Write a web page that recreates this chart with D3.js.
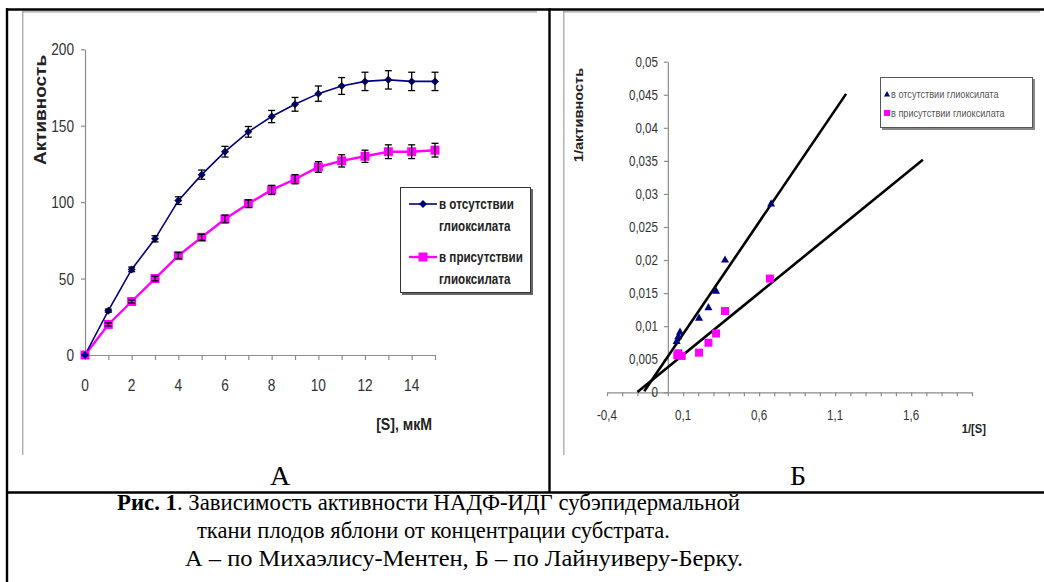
<!DOCTYPE html>
<html>
<head>
<meta charset="utf-8">
<script src="https://cdn.jsdelivr.net/npm/d3@7"></script>
<style>
  body { margin: 0; background: #fff; }
  svg { display: block; }
</style>
</head>
<body>
<div id="graph"></div>
<script>
// ---- data, panel A (Michaelis-Menten) ----
var conc       = [0, 1, 2, 3, 4, 5, 6, 7, 8, 9, 10, 11, 12, 13, 14, 15];
var actNoGly   = [0, 29, 56, 76, 101, 118, 133, 146, 156, 164, 171, 176, 179, 180, 179, 179];
var errNoGly   = [0, 1, 1.5, 2, 2.5, 3, 3.5, 3.5, 4, 4.5, 5, 5.5, 6, 6, 6, 6];
var actGly     = [0, 20, 35, 50, 65, 77, 89, 99, 108, 115, 123, 127, 130, 133, 133, 134];
var errGly     = [0, 1, 1, 1.5, 2, 2, 2.5, 2.5, 3, 3, 3.5, 4, 4, 4.5, 4.5, 4.5];
var leftXTicks  = [0, 1, 2, 3, 4, 5, 6, 7, 8, 9, 10, 11, 12, 13, 14, 15];
var leftXLabels = [0, 2, 4, 6, 8, 10, 12, 14];
var leftYTicks  = [0, 50, 100, 150, 200];
var seriesNames = [["в отсутствии", "глиоксилата"], ["в присутствии", "глиоксилата"]];

// ---- data, panel Б (Lineweaver-Burk) ----
var invSNoGly  = [0.058, 0.069, 0.080, 0.205, 0.267, 0.317, 0.376, 0.679];
var invVNoGly  = [0.0078, 0.0085, 0.0092, 0.0113, 0.0129, 0.0154, 0.0201, 0.0286];
var invSGly    = [0.062, 0.069, 0.091, 0.205, 0.267, 0.317, 0.376, 0.671];
var invVGly    = [0.0056, 0.0059, 0.0055, 0.0060, 0.0075, 0.0089, 0.0123, 0.0172];
var trendSlope     = [0.0339, 0.0187];
var trendIntercept = [0.0054, 0.0038];
var trendFrom      = [-0.155, -0.2];
var trendTo        = [1.172, 1.677];
var rightXTicks  = d3.range(-4, 21).map(i => i / 10);
var rightXLabels = [-0.4, 0.1, 0.6, 1.1, 1.6];
var rightYTicks  = [0, 0.005, 0.01, 0.015, 0.02, 0.025, 0.03, 0.035, 0.04, 0.045, 0.05];
var rightLegend  = ["в отсутствии глиоксилата", "в присутствии глиоксилата"];

var NAVY = "#000080", PINK = "#ff00ff", AXIS = "#8c8c8c";
var SQ = 0.83;   // the chart pictures are squeezed horizontally
var SANS = "'Liberation Sans', Arial, sans-serif";
var SERIF = "'Liberation Serif', 'Times New Roman', serif";

var svg = d3.select("#graph").append("svg")
  .attr("width", 1044).attr("height", 582);

svg.append("rect").attr("width", 1044).attr("height", 582).attr("fill", "#fff");

// squeezed text helper
function txt(g, x, y, s, size, o) {
  o = o || {};
  return g.append("text")
    .attr("transform", `translate(${x},${y}) scale(${SQ},1)` + (o.rotate ? " rotate(-90)" : ""))
    .attr("text-anchor", o.anchor || "start")
    .attr("dy", o.dy || 0)
    .style("font-family", SANS)
    .style("font-size", size + "px")
    .style("font-weight", o.bold ? "bold" : "normal")
    .style("fill", o.fill || "#222")
    .text(s);
}
function diamond(r) { return `M0,${-r}L${r},0L0,${r}L${-r},0Z`; }
function triangle(r) { return `M0,${-r}L${r},${r * 0.8}L${-r},${r * 0.8}Z`; }

// ---- picture frames (gray edges of the pasted images) ----
var frames = svg.append("g").attr("stroke", "#a0a0a0").attr("stroke-width", 1.2);
frames.append("line").attr("x1", 22).attr("x2", 537).attr("y1", 11.8).attr("y2", 11.8);
frames.append("line").attr("x1", 22.8).attr("x2", 22.8).attr("y1", 11).attr("y2", 455);
frames.append("line").attr("x1", 563).attr("x2", 1040).attr("y1", 11.8).attr("y2", 11.8);
frames.append("line").attr("x1", 563.8).attr("x2", 563.8).attr("y1", 11).attr("y2", 455);

// ================= Panel A =================
var gA = svg.append("g");
var xL = d3.scaleLinear().domain([0, 15]).range([85, 435]);
var yL = d3.scaleLinear().domain([0, 200]).range([355, 49.3]);

gA.append("g").attr("transform", `translate(0,${yL(0)})`)
  .call(d3.axisBottom(xL).tickValues(leftXTicks).tickSize(5).tickSizeOuter(0).tickFormat(""));
gA.append("g").attr("transform", `translate(${xL(0)},0)`)
  .call(d3.axisLeft(yL).tickValues(leftYTicks).tickSize(4).tickSizeOuter(0).tickFormat(""));
gA.selectAll(".domain, .tick line").attr("stroke", AXIS).attr("stroke-width", 1.2);

leftXLabels.forEach(v => txt(gA, xL(v), 391, v, 16.5, { anchor: "middle", fill: "#333" }));
leftYTicks.forEach(v => txt(gA, 74, yL(v), v, 16.5, { anchor: "end", dy: "0.36em", fill: "#333" }));

txt(gA, 46, 110, "Активность", 19, { rotate: true, anchor: "middle", bold: true });
txt(gA, 432, 430, "[S], мкМ", 17, { anchor: "end", bold: true });

var lineA = vals => d3.line().x((d, i) => xL(conc[i])).y(d => yL(d))(vals);

gA.append("path").attr("d", lineA(actGly)).attr("fill", "none")
  .attr("stroke", PINK).attr("stroke-width", 2.4);
gA.append("path").attr("d", lineA(actNoGly)).attr("fill", "none")
  .attr("stroke", NAVY).attr("stroke-width", 1.6);

// error bars
function errBars(vals, errs) {
  var g = gA.append("g").attr("stroke", "#000").attr("stroke-width", 1.3);
  conc.forEach((c, i) => {
    if (!errs[i]) return;
    var x = xL(c), y1 = yL(vals[i] - errs[i]), y2 = yL(vals[i] + errs[i]);
    g.append("line").attr("x1", x).attr("x2", x).attr("y1", y1).attr("y2", y2);
    g.append("line").attr("x1", x - 3.5).attr("x2", x + 3.5).attr("y1", y1).attr("y2", y1);
    g.append("line").attr("x1", x - 3.5).attr("x2", x + 3.5).attr("y1", y2).attr("y2", y2);
  });
}

gA.selectAll(".sq").data(actGly).enter().append("rect")
  .attr("x", (d, i) => xL(conc[i]) - 4.5).attr("y", d => yL(d) - 4.5)
  .attr("width", 9).attr("height", 9).attr("fill", PINK);
errBars(actGly, errGly);
gA.selectAll(".dm").data(actNoGly).enter().append("path")
  .attr("d", diamond(4))
  .attr("transform", (d, i) => `translate(${xL(conc[i])},${yL(d)})`)
  .attr("fill", NAVY);
errBars(actNoGly, errNoGly);

// legend A
var legA = gA.append("g");
legA.append("rect").attr("x", 402).attr("y", 189).attr("width", 131).attr("height", 106).attr("fill", "#666");
legA.append("rect").attr("x", 400.5).attr("y", 187.5).attr("width", 130).attr("height", 105)
  .attr("fill", "#fff").attr("stroke", "#333").attr("stroke-width", 1);
[[NAVY, 204], [PINK, 257]].forEach((s, k) => {
  legA.append("line").attr("x1", 409).attr("x2", 437).attr("y1", s[1]).attr("y2", s[1])
    .attr("stroke", s[0]).attr("stroke-width", k ? 2.4 : 1.6);
  if (k) legA.append("rect").attr("x", 418.5).attr("y", s[1] - 4.5).attr("width", 9).attr("height", 9).attr("fill", PINK);
  else legA.append("path").attr("d", diamond(4)).attr("transform", `translate(423,${s[1]})`).attr("fill", NAVY);
  txt(legA, 439, s[1], seriesNames[k][0], 14, { dy: "0.36em", bold: true });
  txt(legA, 439, s[1] + 22, seriesNames[k][1], 14, { dy: "0.36em", bold: true });
});

// ================= Panel Б =================
var gB = svg.append("g");
var xR = d3.scaleLinear().domain([-0.4, 2.0]).range([607, 972]);
var yR = d3.scaleLinear().domain([0, 0.05]).range([392.3, 61.7]);
var fmt = v => String(+v.toFixed(3)).replace(".", ",");

gB.append("g").attr("transform", `translate(0,${yR(0)})`)
  .call(d3.axisBottom(xR).tickValues(rightXTicks).tickSize(4).tickSizeOuter(0).tickFormat(""));
gB.append("g").attr("transform", `translate(${xR(0)},0)`)
  .call(d3.axisLeft(yR).tickValues(rightYTicks).tickSize(4).tickSizeOuter(0).tickFormat(""));
gB.selectAll(".domain, .tick line").attr("stroke", AXIS).attr("stroke-width", 1.2);

rightXLabels.forEach(v => txt(gB, xR(v), 420, fmt(v), 14, { anchor: "middle", fill: "#333" }));
rightYTicks.forEach(v => txt(gB, 658, yR(v), fmt(v), 14, { anchor: "end", dy: "0.36em", fill: "#333" }));

txt(gB, 583, 115, "1/активность", 14.6, { rotate: true, anchor: "middle", bold: true });
txt(gB, 986, 433, "1/[S]", 13.5, { anchor: "end", bold: true });

// trend lines
var trendLine = d3.line().x(d => xR(d[0])).y(d => yR(d[1]));
trendSlope.forEach((k, i) => {
  var pts = [trendFrom[i], trendTo[i]].map(x => [x, k * x + trendIntercept[i]]);
  gB.append("path").attr("d", trendLine(pts)).attr("fill", "none")
    .attr("stroke", "#000").attr("stroke-width", 2.6);
});

gB.selectAll(".psq").data(invVGly).enter().append("rect")
  .attr("x", (d, i) => xR(invSGly[i]) - 4).attr("y", d => yR(d) - 4)
  .attr("width", 8).attr("height", 8).attr("fill", PINK);
gB.selectAll(".tri").data(invVNoGly).enter().append("path")
  .attr("d", triangle(4))
  .attr("transform", (d, i) => `translate(${xR(invSNoGly[i])},${yR(d)})`)
  .attr("fill", NAVY);

// legend Б
var legB = gB.append("g");
legB.append("rect").attr("x", 882).attr("y", 79).attr("width", 153).attr("height", 51).attr("fill", "#888");
legB.append("rect").attr("x", 880.5).attr("y", 77.5).attr("width", 152).attr("height", 50)
  .attr("fill", "#fff").attr("stroke", "#555").attr("stroke-width", 1);
legB.append("path").attr("d", triangle(3)).attr("transform", "translate(887,94)").attr("fill", NAVY);
legB.append("rect").attr("x", 884).attr("y", 110).attr("width", 6).attr("height", 6).attr("fill", PINK);
txt(legB, 891, 94, rightLegend[0], 11, { dy: "0.36em", fill: "#555" });
txt(legB, 891, 113, rightLegend[1], 11, { dy: "0.36em", fill: "#555" });

// ---- table lines ----
var tbl = svg.append("g").attr("stroke", "#000").attr("stroke-width", 2.4);
tbl.append("line").attr("x1", 6).attr("x2", 1044).attr("y1", 9.5).attr("y2", 9.5);
tbl.append("line").attr("x1", 7).attr("x2", 7).attr("y1", 8.3).attr("y2", 582);
tbl.append("line").attr("x1", 549.5).attr("x2", 549.5).attr("y1", 8.3).attr("y2", 493);
tbl.append("line").attr("x1", 6).attr("x2", 1044).attr("y1", 492.5).attr("y2", 492.5);

// ---- panel letters and caption ----
function serif(x, y, size, anchor) {
  return svg.append("text").attr("x", x).attr("y", y)
    .attr("text-anchor", anchor || "start")
    .style("font-family", SERIF).style("font-size", size + "px").style("fill", "#000");
}
serif(280, 485, 28, "middle").text("А");
serif(798, 485, 28, "middle").text("Б");

var cap1 = serif(117, 510, 23).attr("textLength", 623).attr("lengthAdjust", "spacingAndGlyphs");
cap1.append("tspan").style("font-weight", "bold").text("Рис. 1");
cap1.append("tspan").text(". Зависимость активности НАДФ-ИДГ субэпидермальной");
serif(197, 538, 23).attr("textLength", 473).attr("lengthAdjust", "spacingAndGlyphs")
  .text("ткани плодов яблони от концентрации субстрата.");
serif(185, 566, 23).attr("textLength", 558).attr("lengthAdjust", "spacingAndGlyphs")
  .text("А – по Михаэлису-Ментен, Б – по Лайнуиверу-Берку.");
</script>
</body>
</html>
